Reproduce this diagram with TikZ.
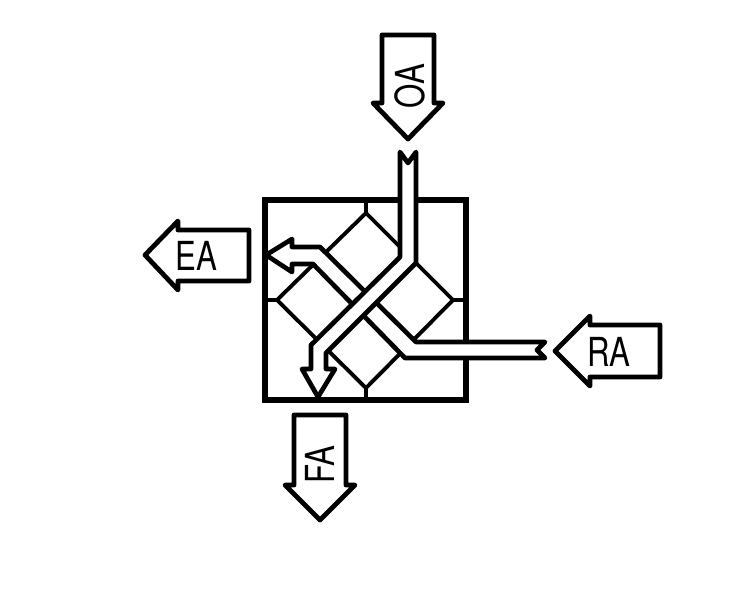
\documentclass[tikz,border=0pt]{standalone}
\usepackage{fontspec}
\setmainfont{TeX Gyre Heros}
\begin{document}
\begin{tikzpicture}[
        x=0.75pt, y=-0.75pt,
        % 定义通用样式
        casing/.style={draw=black, line width=3.9pt, miter limit=10},
        plate/.style={draw=black, line width=2.9pt, line cap=round, line join=round},
        duct/.style={draw=black, fill=white, line width=3.5pt, line join=round},
        airbox/.style={draw=black, fill=white, line width=3.6pt, line join=round},
        airlabel/.style={font=\fontsize{30}{30}\selectfont, inner sep=0pt, xscale=0.78}
    ]
    \useasboundingbox (0,0) rectangle (730,601);

    % ================= 换热芯体 =================
    \draw[plate] (366,213) -- (453,300) -- (366,388) -- (277,300) -- cycle;
    \draw[plate] (366,200) -- (366,213);
    \draw[plate] (265,300) -- (277,300);
    \draw[plate] (453,300) -- (466,300);
    \draw[plate] (366,388) -- (366,400);
    \draw[casing] (265,200) rectangle (466,400);

    % ================= 风道 =================
    \draw[duct] (545,342) -- (537,350) -- (545,358) -- (405,358) -- (313,264) -- (292,264)
        -- (292,272) -- (266,255) -- (292,239) -- (292,247) -- (320,247) -- (416,342) -- cycle;
    \draw[duct] (400,152) -- (408,163) -- (416,152) -- (416,263) -- (326,353) -- (326,369)
        -- (335,369) -- (318,397) -- (302,369) -- (311,369) -- (311,345) -- (400,257) -- cycle;

    % ================= 外部标签箭头 =================
    \draw[airbox] (382,35) -- (434,35) -- (434,103) -- (443,103) -- (408,139) -- (373,103) -- (382,103) -- cycle;
    \draw[airbox] (294,415) -- (346,415) -- (346,485) -- (355,485) -- (320,520) -- (285,485) -- (294,485) -- cycle;
    \draw[airbox] (249,230) -- (178,230) -- (178,221) -- (145,255) -- (178,290) -- (178,281) -- (249,281) -- cycle;
    \draw[airbox] (660,325) -- (590,325) -- (590,316) -- (555,351) -- (590,386) -- (590,377) -- (660,377) -- cycle;

    \node[rotate=90, airlabel] (oa) at (410,86) {OA};
    \node[rotate=90, airlabel] (fa) at (320,465) {FA};
    \node[airlabel] (ea) at (196,256) {EA};
    \node[airlabel] (ra) at (609,352) {RA};
\end{tikzpicture}
\end{document}
